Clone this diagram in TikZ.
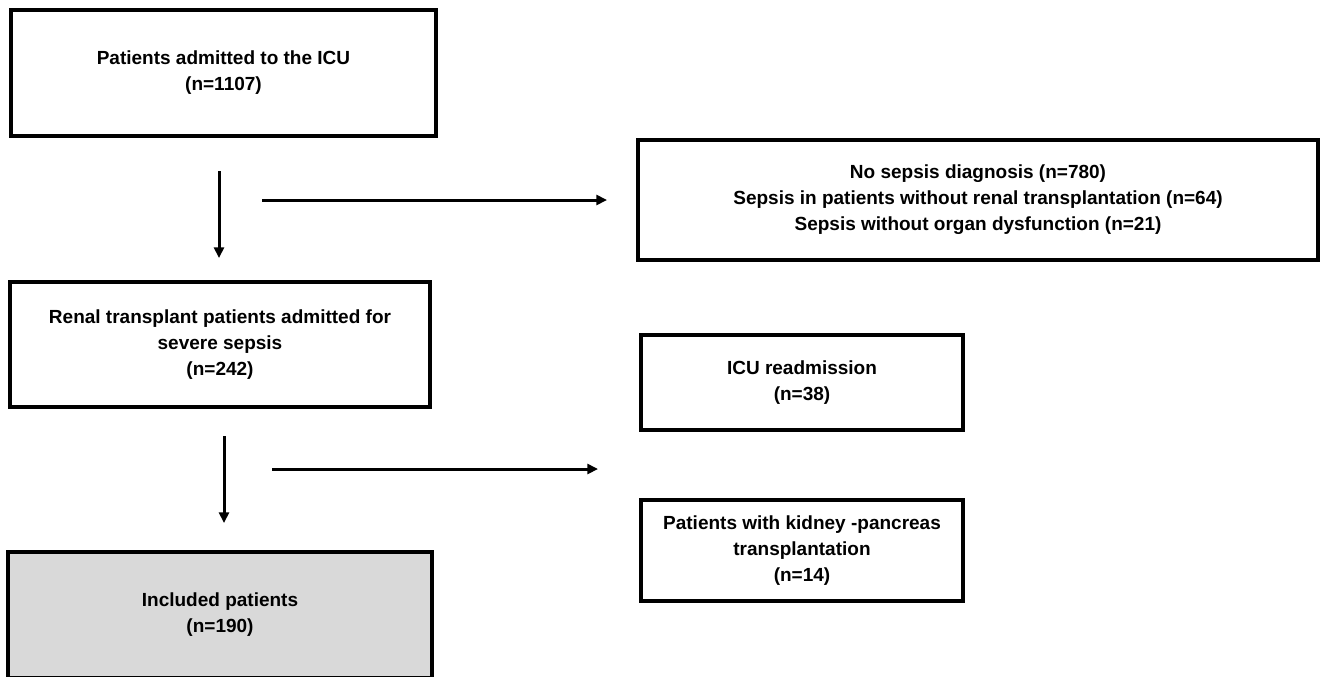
\documentclass[tikz,border=0pt]{standalone}
\usepackage{fontspec}
\setmainfont{Liberation Sans}
\usetikzlibrary{arrows.meta}
\begin{document}
\begin{tikzpicture}[x=0.75pt,y=-0.75pt,
  box/.style={draw=black, line width=2.4pt, fill=white, align=center,
    font=\bfseries\fontsize{14.25}{19.5}\selectfont, inner sep=0pt, anchor=center},
  grey/.style={box, fill=boxgrey},
  arr/.style={line width=2.25pt, -{Triangle[length=8pt,width=7.5pt]}}]
\definecolor{boxgrey}{RGB}{217,217,217}
\clip (0,0) rectangle (1320,676);
\fill[white] (0,0) rectangle (1320,676);

\node[box, minimum width=318.75pt, minimum height=94.5pt] (icu) at (223.5,73)
  {Patients admitted to the ICU\\(n=1107)};
\node[box, minimum width=510pt, minimum height=90pt] (excl1) at (978,200)
  {No sepsis diagnosis (n=780)\\Sepsis in patients without renal transplantation (n=64)\\Sepsis without organ dysfunction (n=21)};
\node[box, minimum width=315pt, minimum height=93.75pt] (renal) at (220,344.5)
  {Renal transplant patients admitted for\\severe sepsis\\(n=242)};
\node[box, minimum width=241.5pt, minimum height=71.25pt] (readm) at (802,382.5)
  {ICU readmission\\(n=38)};
\node[box, minimum width=241.5pt, minimum height=75.75pt] (kp) at (802,550.5)
  {Patients with kidney -pancreas\\transplantation\\(n=14)};
\node[grey, minimum width=318pt, minimum height=94.5pt] (incl) at (220,615)
  {Included patients\\(n=190)};

\coordinate (a1s) at (219,171);
\coordinate (a1e) at (219,258);
\coordinate (a2s) at (262,200);
\coordinate (a2e) at (607,200);
\coordinate (a3s) at (224,436);
\coordinate (a3e) at (224,523);
\coordinate (a4s) at (272,469);
\coordinate (a4e) at (598,469);

\draw[arr] (a1s) -- (a1e);
\draw[arr] (a2s) -- (a2e);
\draw[arr] (a3s) -- (a3e);
\draw[arr] (a4s) -- (a4e);
\end{tikzpicture}
\end{document}
